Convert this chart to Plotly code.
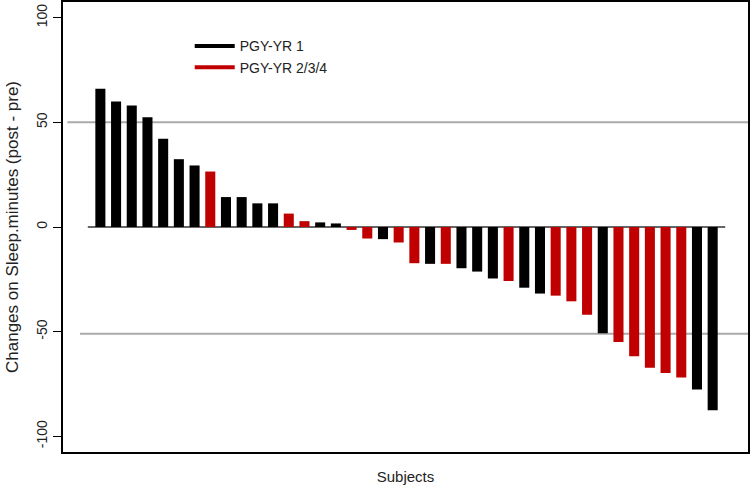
import plotly.graph_objects as go

# Data
subjects = list(range(1, 41))
changes = [66, 60, 58, 52.4, 42.2, 32.4, 29.4, 26.5, 14.3, 14.3,
           11.3, 11.3, 6.4, 2.8, 2.2, 1.7, -1.4, -5.5, -5.8, -7.4,
           -17.3, -17.6, -17.6, -19.7, -21.3, -24.6, -25.8, -29.0, -31.8, -32.8,
           -35.5, -41.9, -50.8, -55.0, -61.7, -67.3, -69.8, -71.9, -77.6, -87.6]
groups = ["1", "1", "1", "1", "1", "1", "1", "2/3/4", "1", "1",
          "1", "1", "2/3/4", "2/3/4", "1", "1", "2/3/4", "2/3/4", "1", "2/3/4",
          "2/3/4", "1", "2/3/4", "1", "1", "1", "2/3/4", "1", "1", "2/3/4",
          "2/3/4", "2/3/4", "1", "2/3/4", "2/3/4", "2/3/4", "2/3/4", "2/3/4", "1", "1"]
group_names = ["1", "2/3/4"]
group_labels = ["PGY-YR 1", "PGY-YR 2/3/4"]
group_colors = ["#000000", "#C00000"]
y_ticks = [-100, -50, 0, 50, 100]
ref_lines = [50, -51]

fig = go.Figure()
for g, lab, col in zip(group_names, group_labels, group_colors):
    xs = [s for s, gg in zip(subjects, groups) if gg == g]
    ys = [v for v, gg in zip(changes, groups) if gg == g]
    fig.add_trace(go.Bar(x=xs, y=ys, marker=dict(color=col, line=dict(width=0)),
                         width=0.64, showlegend=False, name=lab))
for lab, col in zip(group_labels, group_colors):
    fig.add_trace(go.Scatter(x=[None], y=[None], mode="lines",
                             line=dict(color=col, width=4), name=lab))

# reference grey lines and zero line
fig.add_shape(type="line", xref="x", yref="y", x0=-1.1, x1=42.3, y0=ref_lines[0], y1=ref_lines[0],
              line=dict(color="#AAAAAA", width=2), layer="below")
fig.add_shape(type="line", xref="x", yref="y", x0=-0.3, x1=42.3, y0=ref_lines[1], y1=ref_lines[1],
              line=dict(color="#AAAAAA", width=2), layer="below")
fig.add_shape(type="line", xref="x", yref="y", x0=0.2, x1=40.8, y0=0, y1=0,
              line=dict(color="#333333", width=1.5), layer="below")

fig.update_layout(
    width=751, height=489,
    margin=dict(l=63, r=3, t=2, b=37),
    plot_bgcolor="white", paper_bgcolor="white",
    barmode="overlay",
    font=dict(family="Liberation Sans, Arial, sans-serif", size=14, color="#222222"),
    xaxis=dict(range=[-1.38, 42.25], showticklabels=False, ticks="", showgrid=False,
               zeroline=False, showline=True, mirror=True, linecolor="black", linewidth=2,
               automargin=False,
               title=dict(text="Subjects", standoff=18, font=dict(size=15))),
    yaxis=dict(range=[-107.5, 107.5], tickvals=y_ticks, ticktext=[str(t) for t in y_ticks],
               tickangle=-90, ticks="outside", ticklen=8, tickcolor="black", tickwidth=1,
               showgrid=False, zeroline=False, showline=True, mirror=True,
               linecolor="black", linewidth=2, automargin=False,
               title=dict(text="Changes on Sleep.minutes (post - pre)", standoff=11,
                          font=dict(size=17))),
    legend=dict(x=0.185, y=0.937, xanchor="left", yanchor="top", bgcolor="rgba(0,0,0,0)",
                font=dict(size=14), tracegroupgap=0, itemwidth=40),
)

fig.write_html("out.html", config={"displayModeBar": False},
               post_script="document.body.style.margin='0px';")
